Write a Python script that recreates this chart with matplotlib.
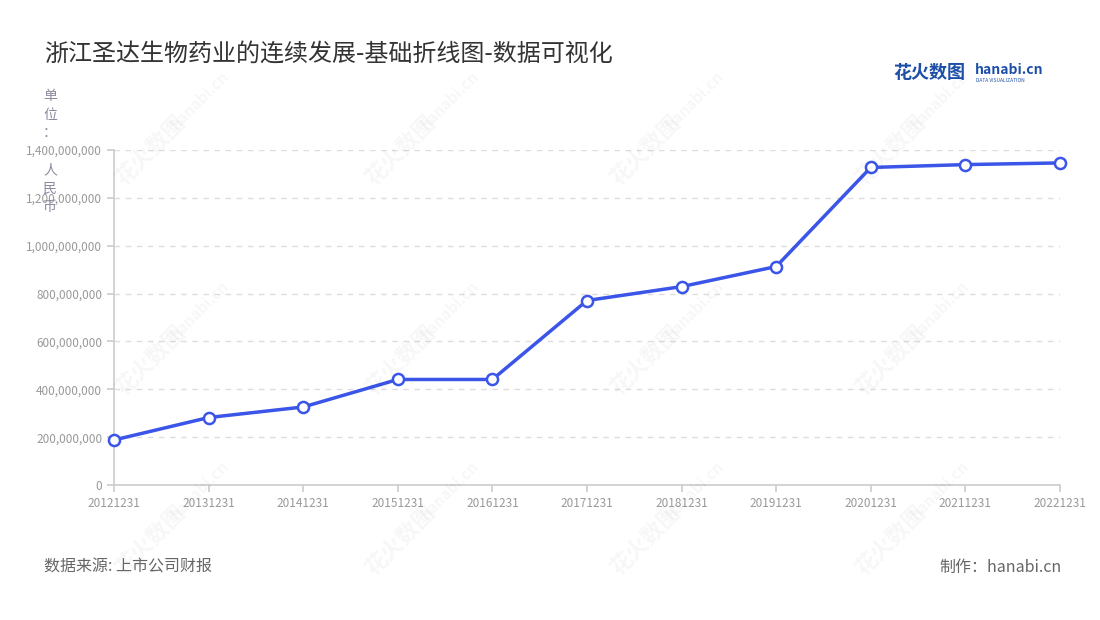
import matplotlib
matplotlib.use("Agg")
import matplotlib.pyplot as plt
from matplotlib.ticker import FuncFormatter

plt.rcParams['font.family'] = ['Noto Sans CJK SC', 'DejaVu Sans']

categories = ['20121231', '20131231', '20141231', '20151231', '20161231', '20171231',
              '20181231', '20191231', '20201231', '20211231', '20221231']
values = [188e6, 282e6, 326e6, 441e6, 441e6, 771e6, 829e6, 913e6, 1327e6, 1339e6, 1346e6]
yticks = [0, 200e6, 400e6, 600e6, 800e6, 1000e6, 1200e6, 1400e6]

title = '浙江圣达生物药业的连续发展-基础折线图-数据可视化'
ylabel_chars = ['单', '位', '：', ' ', '人', '民', '币']
source = '数据来源: 上市公司财报'
maker = '制作：hanabi.cn'

fig = plt.figure(figsize=(11, 6.2), dpi=100)
ax = fig.add_axes([114/1100, 1-485/620, (1060-114)/1100, (485-150)/620])

x = list(range(len(categories)))
ax.plot(x, values, color='#3a55e8', lw=2.5, marker='o', markersize=8,
        markerfacecolor='white', markeredgecolor='#3a55e8', markeredgewidth=1.8, zorder=5,
        clip_on=False)

ax.set_xlim(0, len(categories)-1)
ax.set_ylim(0, 1400e6)
ax.set_xticks(x)
ax.set_xticklabels(categories)
ax.set_yticks(yticks)
ax.yaxis.set_major_formatter(FuncFormatter(lambda v, p: f'{int(v):,}'))

for s in ['top', 'right']:
    ax.spines[s].set_visible(False)
for s in ['left', 'bottom']:
    ax.spines[s].set_color('#cccccc')
    ax.spines[s].set_linewidth(1.2)
ax.tick_params(axis='both', colors='#cccccc', labelcolor='#999999', labelsize=8.5, length=5, width=1.2)
ax.grid(axis='y', color='#dddddd', linestyle=(0, (4, 4)), lw=1)
ax.set_axisbelow(True)

# watermarks
wm_pos = [(150, 150), (400, 150), (645, 150), (890, 150),
          (150, 360), (400, 360), (645, 360), (890, 360),
          (150, 540), (400, 540), (645, 540), (890, 540)]
for (px, py) in wm_pos:
    fig.text(px/1100, 1-py/620, '花火数图', fontsize=16, color='#000000', alpha=0.035,
             rotation=45, ha='center', va='center', fontweight='bold')
    fig.text((px+50)/1100, 1-(py-50)/620, 'hanabi.cn', fontsize=11, color='#000000', alpha=0.035,
             rotation=45, ha='center', va='center', fontweight='bold')

fig.text(44/1100, 1-55/620, title, fontsize=17.3, color='#333333', ha='left', va='center')

for i, ch in enumerate(ylabel_chars):
    fig.text(50/1100, 1-(96+i*18.5)/620, ch, fontsize=10, color='#8a8aa0', ha='center', va='center')

fig.text(44/1100, 1-567/620, source, fontsize=11.5, color='#666666', ha='left', va='center')
fig.text(1062/1100, 1-567/620, maker, fontsize=11.5, color='#666666', ha='right', va='center')

# logo
fig.text(893/1100, 1-73/620, '花火数图', fontsize=13, color='#1d4fa8', ha='left', va='center', fontweight='bold')
fig.text(975/1100, 1-70/620, 'hanabi.cn', fontsize=10, color='#1d4fa8', ha='left', va='center', fontweight='bold')
fig.text(976/1100, 1-80/620, 'DATA VISUALIZATION', fontsize=3.5, color='#1d4fa8', ha='left', va='center')

fig.savefig('out.png', dpi=100)
